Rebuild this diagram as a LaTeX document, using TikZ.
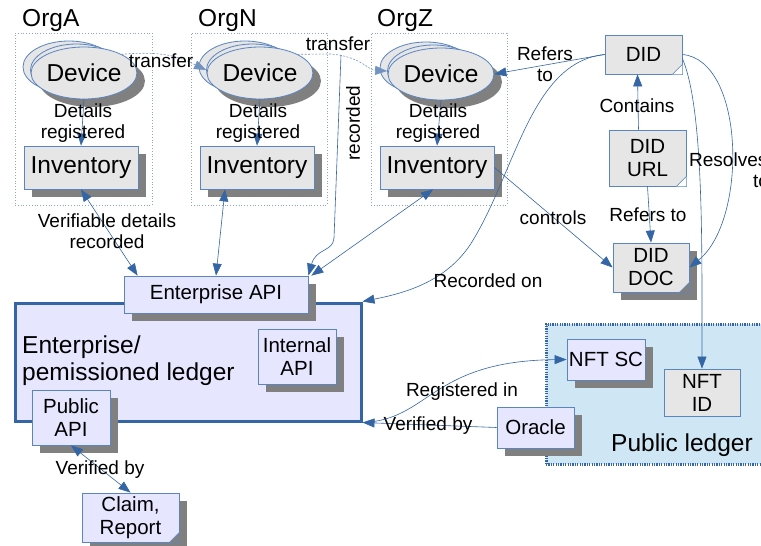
\documentclass[tikz,border=0pt]{standalone}
\usepackage{fontspec}
\setmainfont{Liberation Sans}
\usetikzlibrary{arrows.meta,shapes.geometric,shadows,calc}
\definecolor{lineblue}{HTML}{3465A4}
\definecolor{boxblue}{HTML}{5A85C0}
\definecolor{nodegray}{HTML}{E6E6E6}
\definecolor{lav}{HTML}{E6E6FF}
\definecolor{pubblue}{HTML}{CFE7F5}
\definecolor{shadowgray}{HTML}{808080}
\definecolor{orgline}{HTML}{8FA5C4}
\definecolor{foldc}{HTML}{A9BCD8}
\newcommand\notefold[2]{%
  \fill[#2] ($(#1.south east)+(-10,0)$) -- (#1.south east) -- ($(#1.south east)+(0,-10)$) -- cycle;
  \filldraw[draw=boxblue, fill=foldc, line width=0.6pt] ($(#1.south east)+(-10,0)$) -- ($(#1.south east)+(0,-10)$) -- ($(#1.south east)+(-7,-3)$) -- cycle;
}
\tikzset{
  big/.style={font=\fontsize{24.5}{27}\selectfont},
  mid/.style={font=\fontsize{20.5}{23}\selectfont},
  lbl/.style={font=\fontsize{19}{21}\selectfont, align=center, inner sep=0pt},
  shad/.style={general shadow={shadow xshift=8pt, shadow yshift=-8pt, fill=shadowgray}},
  graybox/.style={draw=boxblue, fill=nodegray, line width=0.8pt, inner sep=0pt, align=center},
  lavbox/.style={draw=boxblue, fill=lav, line width=0.8pt, inner sep=0pt, align=center},
  conn/.style={draw=lineblue, line width=0.6pt},
  arr/.style={conn, -{Triangle[length=12pt,width=9pt]}},
  darr/.style={conn, {Triangle[length=12pt,width=9pt]}-{Triangle[length=12pt,width=9pt]}},
  dashconn/.style={conn, draw=lineblue!70, dash pattern=on 2pt off 1.5pt, -{Triangle[length=12pt,width=9pt]}},
  orgbox/.style={draw=orgline, dotted, line width=0.8pt, inner sep=0pt},
  devell/.style={ellipse, draw=boxblue, fill=nodegray, line width=0.8pt, minimum width=92pt, minimum height=52pt, inner sep=0pt, big},
}
\begin{document}
\begin{tikzpicture}[x=1pt,y=-1pt]
\useasboundingbox (0,0) rectangle (761,546);
\fill[white] (0,0) rectangle (761,546);

% organisation frames
\node[orgbox, minimum width=137, minimum height=172] (orgA) at (83.5,119) {};
\node[orgbox, minimum width=136, minimum height=172] (orgN) at (259,119) {};
\node[orgbox, minimum width=136, minimum height=172] (orgZ) at (439,119) {};
\node[big, anchor=base west, inner sep=0pt] (orgAl) at (22,27) {OrgA};
\node[big, anchor=base west, inner sep=0pt] (orgNl) at (198,27) {OrgN};
\node[big, anchor=base west, inner sep=0pt] (orgZl) at (377,27) {OrgZ};

% ledgers
\node[draw=lineblue, line width=3pt, fill=lav, minimum width=346, minimum height=118, inner sep=0pt] (eled) at (188,362) {};
\node[big, align=left, inner sep=0pt, anchor=west] (eledl) at (22,361) {Enterprise/\\pemissioned ledger};
\node[draw=lineblue, fill=pubblue, line width=3pt, dash pattern=on 1.2pt off 1.2pt, minimum width=229, minimum height=140, inner sep=0pt] (publed) at (660.5,394) {};
\node[big, inner sep=0pt] (publedl) at (682,445) {Public ledger};

% devices
\node[devell] (devA3) at (69,67) {};
\node[devell] (devA2) at (76.5,70) {};
\node[devell, shad] (devA) at (84,73) {Device};
\node[devell] (devN3) at (245,67) {};
\node[devell] (devN2) at (252.5,70) {};
\node[devell, shad] (devN) at (260,73) {Device};
\node[devell] (devZ3) at (426,68) {};
\node[devell] (devZ2) at (433.5,71) {};
\node[devell, shad] (devZ) at (441,74) {Device};

% inventories
\node[graybox, shad, big, minimum width=114, minimum height=43] (invA) at (81,167.5) {Inventory};
\node[graybox, shad, big, minimum width=114, minimum height=43] (invN) at (257,167.5) {Inventory};
\node[graybox, shad, big, minimum width=114, minimum height=43] (invZ) at (437,167.5) {Inventory};

% APIs
\node[lavbox, shad, mid, minimum width=184, minimum height=37] (eapi) at (216,294.5) {Enterprise API};
\node[lavbox, shad, mid, minimum width=78, minimum height=55] (iapi) at (297,356.5) {Internal\\API};
\node[lavbox, shad, mid, minimum width=78, minimum height=55] (papi) at (71,417.5) {Public\\API};
\node[lavbox, shad, mid, minimum width=97, minimum height=49] (claim) at (130.5,517.5) {Claim,\\Report};
\notefold{claim}{shadowgray}

% DID side
\node[graybox, mid, minimum width=77, minimum height=39] (did) at (643.5,54.5) {DID};
\notefold{did}{white}
\node[graybox, mid, minimum width=77, minimum height=56] (didurl) at (647.5,158) {DID\\URL};
\notefold{didurl}{white}
\node[graybox, shad, mid, minimum width=76, minimum height=49] (diddoc) at (651,267.5) {DID\\DOC};
\notefold{diddoc}{shadowgray}

% public ledger contents
\node[lavbox, shad, mid, minimum width=78, minimum height=41] (nftsc) at (606,359.5) {NFT SC};
\node[graybox, mid, minimum width=76, minimum height=47] (nftid) at (702,392.5) {NFT\\ID};
\node[lavbox, shad, mid, minimum width=77, minimum height=41] (oracle) at (535.5,427.5) {Oracle};

% connectors: transfers
\draw[dashconn] (devA.north east) .. controls (170,50) and (185,60) .. (devN2.west);
\draw[dashconn] (devN.north east) -- (330,54) .. controls (360,56) and (368,70) .. (devZ2.west);
\coordinate (rec) at (341,55);
\draw[arr] (rec) -- (334,238) .. controls (333,252) and (316,248) .. (eapi.north east);
\node[lbl] (trA) at (161,61) {transfer};
\node[lbl] (trN) at (338,44) {transfer};
\node[lbl, rotate=90] (recl) at (353,123) {recorded};

% details registered
\draw[arr] (devA.south) -- (invA.north);
\draw[arr] (devN.south) -- (invN.north);
\draw[arr] (devZ.south) -- (invZ.north);
\node[lbl] (drA) at (83,123) {Details\\registered};
\node[lbl] (drN) at (258,123) {Details\\registered};
\node[lbl] (drZ) at (438,123) {Details\\registered};

% inventories to enterprise API
\draw[darr] (invA.south) -- ($(eapi.north west)+(14,0)$);
\draw[darr] ($(invN.south)+(-32,0)$) -- (eapi.north);
\draw[darr] ($(invZ.south)+(-4,0)$) -- ($(eapi.north east)+(3,0)$);
\node[lbl] (vdr) at (107,231) {Verifiable details\\recorded};

% DID relations
\draw[arr] (did.west) -- (devZ.east);
\node[lbl] (ref1) at (545,64) {Refers\\to};
\draw[arr] (did.west) .. controls (530,62) and (515,175) .. (470,245) .. controls (445,282) and (405,293) .. (eled.north east);
\node[lbl] (recon) at (488,281) {Recorded on};
\draw[arr] ($(didurl.north)+(-9,0)$) -- ($(did.south)+(-6,0)$);
\node[lbl] (cont) at (637,106) {Contains};
\draw[arr] (didurl.south) -- (diddoc.north);
\node[lbl] (ref2) at (648,215) {Refers to};
\draw[arr] (did.east) .. controls (745,60) and (748,220) .. (diddoc.east);
\draw[arr] ($(did.east)+(0,4)$) .. controls (700,100) and (702,200) .. (702,300) -- (nftid.north);
\node[lbl, anchor=north west, align=left] (resl) at (689,153) {Resolves\\\hspace*{64pt}to};
\draw[arr] (invZ.east) -- (diddoc.west);
\node[lbl] (ctl) at (553,218) {controls};

% oracle / registration
\draw[arr] (oracle.west) -- (eled.south east);
\node[lbl] (vby1) at (428,426) {Verified by};
\draw[arr] (eled.south east) .. controls (430,420) and (430,361) .. (nftsc.west);
\node[lbl] (regin) at (462,392) {Registered in};

% public API to claim
\draw[darr] (papi.south) -- (claim.north);
\node[lbl] (vby2) at (100,470) {Verified by};
\end{tikzpicture}
\end{document}
